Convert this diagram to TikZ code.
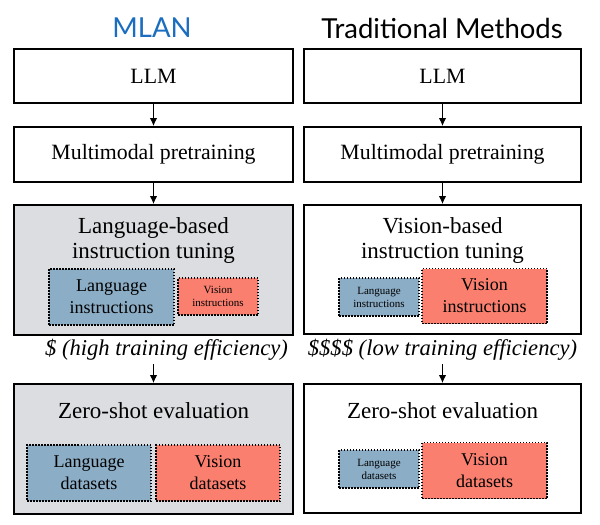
\documentclass[tikz,border=0pt]{standalone}
\usepackage{fontspec}
\setmainfont{Liberation Serif}
\newfontfamily\myserif{Liberation Serif}
\newfontfamily\titlefont{Lato}
\usetikzlibrary{arrows.meta}
\definecolor{mlanblue}{HTML}{1A6DBF}
\definecolor{boxgray}{HTML}{DCDDE0}
\definecolor{langblue}{HTML}{8BADC6}
\definecolor{visred}{HTML}{FA7F6F}
\tikzset{
  mainbox/.style={draw=black, line width=1.8pt, inner sep=0pt, minimum width=279pt},
  subbox/.style={draw=black, line width=1.5pt, dash pattern=on 1.5pt off 1.5pt, inner sep=0pt, align=center},
  flow/.style={line width=1.3pt, -{Latex[length=8pt,width=7.5pt]}},
  colhead/.style={font=\titlefont\fontsize{27.5}{30}\selectfont},
  bigtxt/.style={font=\myserif\fontsize{21.8}{24}\selectfont},
  hdtxt/.style={font=\myserif\fontsize{23}{25}\selectfont, align=center, inner sep=0pt},
  efftxt/.style={font=\myserif\itshape\fontsize{22.6}{25}\selectfont, inner sep=1pt},
  lgtxt/.style={font=\myserif\fontsize{18}{22}\selectfont},
  smtxt/.style={font=\myserif\fontsize{11}{13}\selectfont},
}
\begin{document}
\begin{tikzpicture}[x=1pt,y=-1pt]
\useasboundingbox (0,0) rectangle (600,525);
% titles
\node[colhead, text=mlanblue] (tL) at (152,28) {MLAN};
\node[colhead] (tR) at (442,28) {Traditional Methods};
% left column
\node[mainbox, minimum height=54pt, bigtxt] (llmL) at (153.5,76) {LLM};
\node[mainbox, minimum height=55pt, bigtxt] (mmL) at (153.5,154.5) {Multimodal pretraining};
\node[mainbox, minimum height=130pt, fill=boxgray] (ltL) at (153.5,270) {};
\node[hdtxt] (ltLt) at (153.5,240) {Language-based\\instruction tuning};
\node[subbox, fill=langblue, minimum width=125pt, minimum height=56pt, lgtxt] (liL) at (111.5,297) {Language\\instructions};
\node[subbox, fill=visred, minimum width=80pt, minimum height=37pt, smtxt] (viL) at (218,296.5) {Vision\\instructions};
\node[efftxt] (effL) at (166.5,350) {\$ (high training efficiency)};
\node[mainbox, minimum height=130pt, fill=boxgray] (zsL) at (153.5,449) {};
\node[hdtxt] (zsLt) at (153.5,411) {Zero-shot evaluation};
\node[subbox, fill=langblue, minimum width=124pt, minimum height=56pt, lgtxt] (ldL) at (89,473) {Language\\datasets};
\node[subbox, fill=visred, minimum width=124pt, minimum height=56pt, lgtxt] (vdL) at (218,473) {Vision\\datasets};
% right column
\node[mainbox, minimum width=277pt, minimum height=54pt, bigtxt] (llmR) at (442.5,76) {LLM};
\node[mainbox, minimum width=277pt, minimum height=55pt, bigtxt] (mmR) at (442.5,154.5) {Multimodal pretraining};
\node[mainbox, minimum width=277pt, minimum height=129pt, fill=white] (vtR) at (442.5,269.5) {};
\node[hdtxt] (vtRt) at (442.5,240) {Vision-based\\instruction tuning};
\node[subbox, fill=langblue, minimum width=80pt, minimum height=38pt, smtxt] (liR) at (379,297) {Language\\instructions};
\node[subbox, fill=visred, minimum width=125pt, minimum height=55pt, lgtxt] (viR) at (484.5,296) {Vision\\instructions};
\node[efftxt] (effR) at (442.5,350) {\$\$\$\$ (low training efficiency)};
\node[mainbox, minimum width=277pt, minimum height=129pt, fill=white] (zsR) at (442.5,448.5) {};
\node[hdtxt] (zsRt) at (442.5,411) {Zero-shot evaluation};
\node[subbox, fill=langblue, minimum width=80pt, minimum height=38pt, smtxt] (ldR) at (379,469) {Language\\datasets};
\node[subbox, fill=visred, minimum width=125pt, minimum height=56pt, lgtxt] (vdR) at (484.5,470.5) {Vision\\datasets};
% arrows
\draw[flow] (llmL.south) -- (mmL.north);
\draw[flow] (mmL.south) -- (ltL.north);
\coordinate (aL) at (153.5,364);
\draw[flow] (aL) -- (zsL.north);
\draw[flow] (llmR.south) -- (mmR.north);
\draw[flow] (mmR.south) -- (vtR.north);
\coordinate (aR) at (442.5,364);
\draw[flow] (aR) -- (zsR.north);
\end{tikzpicture}
\end{document}
